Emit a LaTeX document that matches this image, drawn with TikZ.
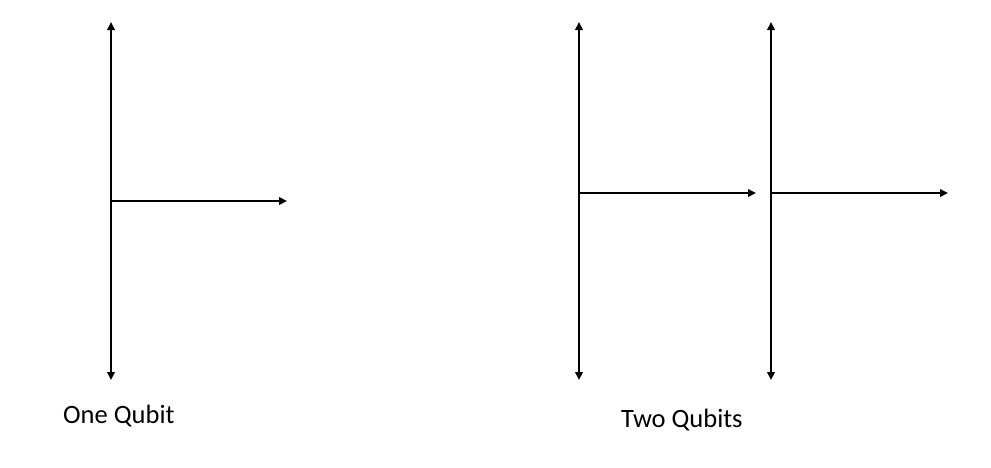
\documentclass[tikz,border=0pt]{standalone}
\usepackage{fontspec}
\setmainfont{Carlito}
\usetikzlibrary{arrows.meta}
\definecolor{fg}{HTML}{000000}

\begin{document}
\begin{tikzpicture}[
  x=1pt, y=-1pt,
  >={Triangle[length=8pt,width=7.5pt]},
  axis/.style={draw=fg, line width=2.6pt},
  lbl/.style={inner sep=0pt, anchor=base west, text=fg, font=\fontsize{26.5}{31}\selectfont},
]
\useasboundingbox (0,0) rectangle (991,467);

% One qubit
\coordinate (a1top) at (111,22);
\coordinate (a1bot) at (111,380);
\coordinate (a1o) at (111,201);
\coordinate (a1end) at (287,201);
\draw[axis, <->] (a1top) -- (a1bot);
\draw[axis, ->] (a1o) -- (a1end);
\node[lbl] (one) at (63,423) {One Qubit};

% Two qubits
\coordinate (b1top) at (579,22);
\coordinate (b1bot) at (579,380);
\coordinate (b1o) at (579,193);
\coordinate (b1end) at (756,193);
\coordinate (b2top) at (771,22);
\coordinate (b2bot) at (771,380);
\coordinate (b2o) at (771,193);
\coordinate (b2end) at (948,193);
\foreach \i in {1,2}{
  \draw[axis, <->] (b\i top) -- (b\i bot);
  \draw[axis, ->] (b\i o) -- (b\i end);
}
\node[lbl] (two) at (621,427) {Two Qubits};

\end{tikzpicture}
\end{document}
